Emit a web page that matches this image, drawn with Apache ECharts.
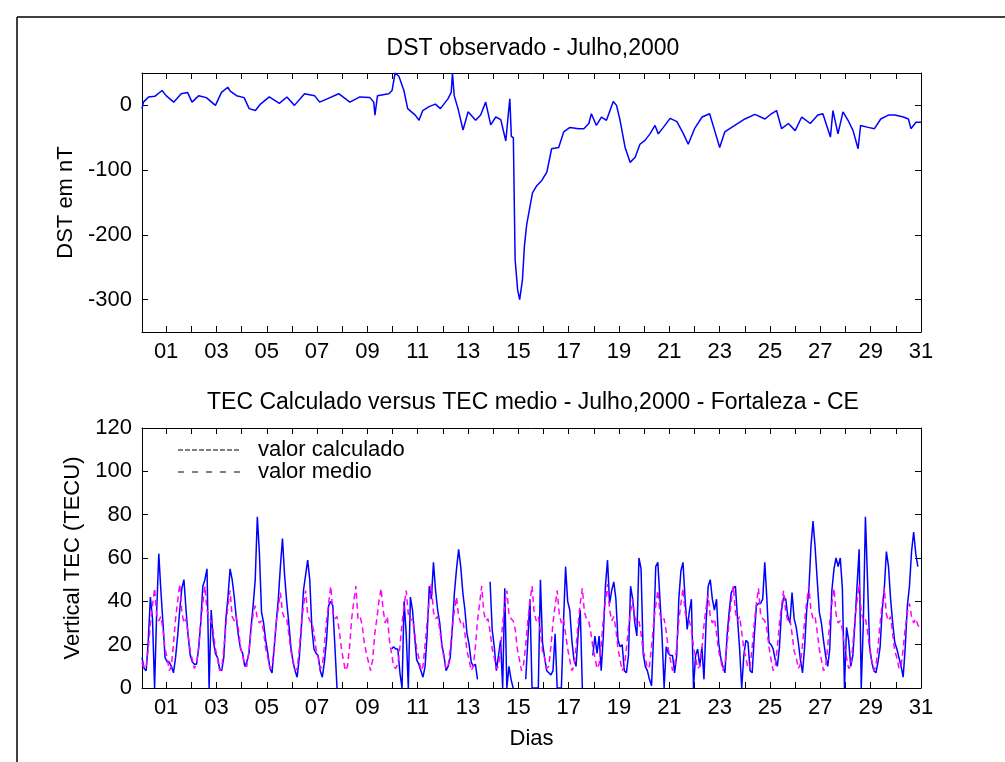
<!DOCTYPE html>
<html>
<head>
<meta charset="utf-8">
<script src="https://cdn.jsdelivr.net/npm/echarts@6/dist/echarts.min.js"></script>
<style>
  html, body { margin: 0; padding: 0; background: #fff; }
  #chart { width: 1005px; height: 762px; }
</style>
</head>
<body>
<div id="chart"></div>
<script>
// DST observado (dia do mes, nT)
var dstDay = [0.04,0.1,0.3,0.55,0.84,1.0,1.3,1.6,1.85,2.03,2.3,2.6,2.96,3.2,3.45,3.55,3.8,4.1,4.3,4.55,4.75,5.1,5.5,5.8,6.1,6.5,6.9,7.1,7.4,7.86,8.3,8.7,9.1,9.25,9.3,9.4,9.85,9.98,10.1,10.25,10.45,10.6,10.9,11.05,11.2,11.45,11.7,11.9,12.2,12.33,12.38,12.45,12.6,12.8,13.0,13.3,13.5,13.7,13.9,14.1,14.3,14.5,14.62,14.66,14.72,14.8,14.87,14.97,15.05,15.16,15.24,15.33,15.42,15.56,15.73,15.93,16.13,16.32,16.6,16.8,17.05,17.4,17.6,17.8,17.9,18.1,18.3,18.5,18.77,18.9,19.04,19.24,19.44,19.64,19.83,20.03,20.23,20.43,20.56,20.76,21.03,21.3,21.56,21.75,22.0,22.3,22.6,22.8,23.0,23.2,23.6,24.0,24.4,24.8,25.05,25.26,25.46,25.73,26.0,26.26,26.6,26.9,27.1,27.4,27.5,27.7,27.9,28.1,28.3,28.5,28.6,28.9,29.15,29.4,29.7,29.96,30.3,30.5,30.6,30.8,31.0];
var dstVal = [-5,5,13,14,23,15,5,18,20,5,15,12,0,20,28,22,15,12,-5,-8,2,13,3,13,0,18,15,5,10,18,5,13,12,5,-15,15,18,23,50,45,23,-5,-15,-23,-8,-2,2,-5,10,20,50,15,-5,-38,-10,-23,-15,5,-30,-18,-22,-55,-5,10,-48,-50,-238,-285,-300,-270,-217,-184,-165,-135,-124,-116,-103,-67,-65,-41,-34,-36,-36,-28,-13,-31,-18,-23,6,0,-23,-65,-88,-80,-60,-54,-44,-31,-44,-34,-20,-25,-44,-60,-36,-18,-13,-39,-65,-41,-31,-21,-14,-21,-13,-8,-36,-28,-39,-18,-28,-15,-13,-49,-8,-44,-10,-23,-39,-67,-31,-34,-36,-21,-15,-15,-18,-21,-36,-26,-26];

// TEC (TECU) a cada 2 horas, uma linha por dia
var tecHours = [1,3,5,7,9,11,13,15,17,19,21,23];
var tecCalc = [
  [14,9,8,22,42,32,0,35,62,45,30,14],
  [12,12,10,7,14,24,36,46,50,36,24,15],
  [12,11,11,18,30,47,50,55,0,36,22,16],
  [14,9,8,14,32,42,55,50,42,32,24,18],
  [16,10,12,16,28,38,50,79,62,35,30,22],
  [16,9,7,18,30,41,56,69,52,40,30,19],
  [12,8,5,14,28,45,52,59,50,28,18,16],
  [15,8,5,12,22,38,40,38,19,0,null,null],
  [null,null,null,null,null,null,null,null,null,null,null,null],
  [null,null,null,null,null,null,null,null,null,null,null,18],
  [19,18,18,7,0,40,25,0,42,36,24,13],
  [11,8,5,10,25,47,41,58,45,36,30,20],
  [15,8,10,14,28,44,55,64,56,44,36,25],
  [20,12,10,11,4,null,null,null,null,null,49,27],
  [19,8,15,22,0,46,0,10,4,0,null,null],
  [null,null,null,4,22,41,0,0,0,0,50,21],
  [14,8,7,6,8,25,0,0,0,30,56,40],
  [36,22,13,10,25,36,0,null,null,null,null,15],
  [24,16,24,8,24,47,59,39,45,49,41,22],
  [19,20,8,7,15,47,41,30,24,60,55,16],
  [10,8,4,1,25,56,58,41,24,0,19,16],
  [15,15,7,15,41,54,58,41,27,35,41,0],
  [15,18,10,19,4,30,47,50,41,36,41,21],
  [14,10,7,24,35,44,46,47,32,18,0,15],
  [22,21,8,7,24,38,39,39,41,58,41,21],
  [20,18,13,10,19,36,42,41,33,30,44,32],
  [28,21,13,7,19,36,45,65,77,65,50,35],
  [30,22,15,10,18,45,55,60,56,60,46,0],
  [28,22,10,15,30,47,64,0,30,79,50,19],
  [12,8,7,12,19,36,46,63,56,41,30,21],
  [18,14,10,5,19,38,47,63,72,62,56,null]
];
var tecMedio = [
  [12,9,10,18,30,38,46,34,31,33,27,18],
  [14,8,10,20,32,40,48,35,30,32,25,17],
  [13,9,11,19,30,39,47,36,32,31,26,18],
  [14,8,9,18,29,38,45,33,31,33,27,19],
  [15,10,10,17,27,34,38,32,30,31,26,18],
  [14,9,10,19,30,37,44,35,32,32,25,17],
  [13,8,9,18,29,38,45,34,31,30,26,18],
  [14,9,10,20,31,39,47,35,32,33,27,19],
  [13,8,10,19,32,40,47,32,33,29,21,16],
  [12,8,13,25,32,40,46,36,30,33,22,16],
  [10,9,11,19,30,38,45,34,31,32,26,18],
  [14,8,10,20,31,40,48,35,32,33,27,19],
  [14,9,10,18,28,36,42,33,30,31,25,17],
  [13,8,10,19,31,39,47,35,31,32,26,18],
  [14,9,10,18,30,38,45,34,32,31,27,18],
  [13,8,11,20,31,40,47,35,31,33,26,17],
  [14,9,10,19,30,38,45,34,30,32,25,18],
  [13,8,10,19,30,39,46,35,32,31,26,19],
  [14,9,11,20,32,40,48,36,31,33,27,18],
  [13,8,10,18,28,35,41,33,30,31,25,17],
  [14,9,10,19,30,38,45,34,31,32,26,18],
  [13,8,10,19,31,39,46,35,32,31,27,19],
  [14,9,10,18,29,37,43,33,30,32,25,17],
  [13,8,11,20,31,40,47,35,31,33,26,18],
  [14,9,10,19,30,39,46,34,32,31,27,19],
  [13,8,10,19,30,38,45,35,31,32,25,17],
  [14,9,11,20,31,40,47,36,32,33,26,18],
  [13,8,10,19,31,39,46,34,30,31,27,19],
  [14,9,10,20,32,40,48,35,31,32,26,18],
  [13,8,10,19,30,39,46,34,31,33,25,17],
  [14,9,10,18,28,35,39,33,30,32,29,28]
];

var dayTicks = [];
for (var i = 1; i <= 31; i++) dayTicks.push(i);
var dayLabels = dayTicks.filter(function (d) { return d % 2 === 1; });
var dstTicks = [0, -100, -200, -300];

var FONT = 'Liberation Sans, Arial, sans-serif';
var FS = 22;

function pairs(days, vals) {
  return days.map(function (d, i) { return [d, vals[i]]; });
}
function tecPairs(rows) {
  var out = [];
  rows.forEach(function (row, d) {
    row.forEach(function (v, k) { out.push([d + tecHours[k] / 24, v]); });
  });
  return out;
}

function xAxis(grid, pos, labels, name) {
  return {
    type: 'value', gridIndex: grid, position: pos, min: 1 / 24, max: 31,
    name: name || '', nameLocation: 'middle', nameGap: 40,
    nameTextStyle: { color: '#000', fontSize: 22, fontFamily: FONT },
    axisLine: { show: true, onZero: false, lineStyle: { color: '#000', width: 1 } },
    axisTick: { show: true, inside: true, length: 6, customValues: dayTicks, lineStyle: { color: '#000' } },
    axisLabel: {
      show: labels, customValues: dayLabels, margin: 9,
      color: '#000', fontSize: FS, fontFamily: FONT,
      formatter: function (v) { return (v < 10 ? '0' : '') + v; }
    },
    splitLine: { show: false }
  };
}
function yAxis(grid, pos, labels, opts) {
  var a = {
    type: 'value', gridIndex: grid, position: pos,
    nameLocation: 'middle', nameGap: 60,
    nameTextStyle: { color: '#000', fontSize: 22, fontFamily: FONT },
    axisLine: { show: true, onZero: false, lineStyle: { color: '#000', width: 1 } },
    axisTick: { show: true, inside: true, length: 6, lineStyle: { color: '#000' } },
    axisLabel: { show: labels, margin: 10, color: '#000', fontSize: FS, fontFamily: FONT },
    splitLine: { show: false }
  };
  for (var k in opts) {
    if (typeof opts[k] === 'object' && a[k]) Object.assign(a[k], opts[k]); else a[k] = opts[k];
  }
  return a;
}

var chart = echarts.init(document.getElementById('chart'), null, { renderer: 'canvas' });

var option = {
  backgroundColor: '#fff',
  animation: false,
  textStyle: { fontFamily: FONT },
  title: [
    { text: 'DST observado - Julho,2000', left: 528, top: 32, textAlign: 'center',
      textStyle: { fontSize: 23, fontWeight: 'normal', color: '#000', fontFamily: FONT } },
    { text: 'TEC Calculado versus TEC medio - Julho,2000 - Fortaleza - CE', left: 528, top: 386, textAlign: 'center',
      textStyle: { fontSize: 23, fontWeight: 'normal', color: '#000', fontFamily: FONT } }
  ],
  grid: [
    { left: 142, top: 73, width: 779, height: 259, containLabel: false, outerBoundsMode: 'none' },
    { left: 142, top: 428, width: 779, height: 260, containLabel: false, outerBoundsMode: 'none' }
  ],
  xAxis: [
    xAxis(0, 'bottom', true),
    xAxis(0, 'top', false),
    xAxis(1, 'bottom', true, 'Dias'),
    xAxis(1, 'top', false)
  ],
  yAxis: [
    yAxis(0, 'left', true, { min: -350, max: 50, name: 'DST em nT',
      axisTick: { customValues: dstTicks }, axisLabel: { customValues: dstTicks } }),
    yAxis(0, 'right', false, { min: -350, max: 50,
      axisTick: { customValues: dstTicks } }),
    yAxis(1, 'left', true, { min: 0, max: 120, interval: 20, name: 'Vertical TEC (TECU)', nameGap: 58 }),
    yAxis(1, 'right', false, { min: 0, max: 120, interval: 20 })
  ],
  series: [
    { name: 'DST', type: 'line', xAxisIndex: 0, yAxisIndex: 0, data: pairs(dstDay, dstVal),
      showSymbol: false, lineStyle: { color: '#0000ff', width: 1.5 }, itemStyle: { color: '#0000ff' } },
    { name: 'valor calculado', type: 'line', xAxisIndex: 2, yAxisIndex: 2, data: tecPairs(tecCalc),
      showSymbol: false, connectNulls: false, lineStyle: { color: '#0000ff', width: 1.5 }, itemStyle: { color: '#0000ff' } },
    { name: 'valor medio', type: 'line', xAxisIndex: 2, yAxisIndex: 2, data: tecPairs(tecMedio),
      showSymbol: false, lineStyle: { color: '#ff00ff', width: 1.5, type: [6, 4] }, itemStyle: { color: '#ff00ff' } }
  ],
  graphic: [
    { type: 'line', shape: { x1: 17, y1: 17, x2: 1005, y2: 17 }, style: { stroke: '#000', lineWidth: 1.5 } },
    { type: 'line', shape: { x1: 17, y1: 17, x2: 17, y2: 762 }, style: { stroke: '#000', lineWidth: 1.5 } },
    { type: 'line', shape: { x1: 178, y1: 450, x2: 240, y2: 450 }, style: { stroke: '#000', lineWidth: 1, lineDash: [5, 2] } },
    { type: 'line', shape: { x1: 178, y1: 472, x2: 240, y2: 472 }, style: { stroke: '#000', lineWidth: 1, lineDash: [6, 8] } },
    { type: 'text', x: 258, y: 450, style: { text: 'valor calculado', fill: '#000', font: '22px ' + FONT, textVerticalAlign: 'middle' } },
    { type: 'text', x: 258, y: 472, style: { text: 'valor medio', fill: '#000', font: '22px ' + FONT, textVerticalAlign: 'middle' } }
  ]
};
chart.setOption(option);
</script>
</body>
</html>
